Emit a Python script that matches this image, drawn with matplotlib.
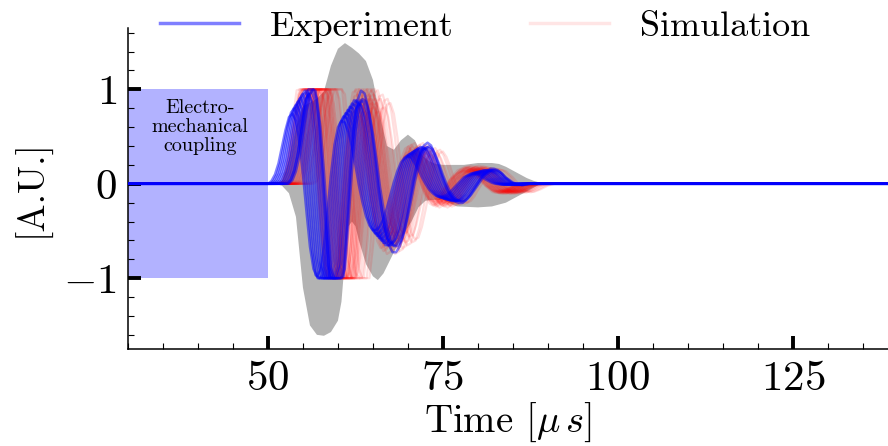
import numpy as np
import matplotlib
matplotlib.use("Agg")
import matplotlib.pyplot as plt
from matplotlib.ticker import MultipleLocator
from matplotlib.lines import Line2D

plt.rcParams['font.family'] = 'serif'
plt.rcParams['font.serif'] = ['cmr10']
plt.rcParams['mathtext.fontset'] = 'cm'
plt.rcParams['axes.formatter.use_mathtext'] = True

########## data ##########
# experiment template (earliest trace), time in us
exp_t = [25, 50.0, 50.5, 51.0, 51.5, 52.0, 52.5, 53.0, 53.5, 54.0, 54.5, 55.0, 55.5,
         56.0, 56.5, 57.0, 57.5, 58.0, 58.5, 59.0, 59.5, 60.0, 60.5, 61.0, 61.5,
         62.0, 62.5, 63.0, 63.5, 64.0, 64.5, 65.0, 65.5, 66.0, 66.5, 67.0, 67.5,
         68.0, 68.5, 69.0, 69.5, 70.0, 70.5, 71.0, 71.5, 72.0, 72.5, 73.0, 73.5,
         74.0, 74.5, 75.0, 75.5, 76.0, 76.5, 77.0, 77.5, 78.0, 78.5, 79.0, 79.5,
         80.0, 80.5, 81.0, 81.5, 82.0, 82.5, 83.0, 84.0, 85.0, 145]
exp_v = [0, 0, 0.0, 0.03, 0.1, 0.22, 0.4, 0.58, 0.72, 0.76, 0.68, 0.45, 0.1,
         -0.3, -0.68, -0.92, -1.0, -0.93, -0.68, -0.3, 0.1, 0.42, 0.61, 0.68, 0.66,
         0.56, 0.4, 0.2, -0.02, -0.2, -0.35, -0.45, -0.5, -0.5, -0.46, -0.38, -0.26,
         -0.12, 0.02, 0.14, 0.23, 0.28, 0.3, 0.28, 0.22, 0.15, 0.07, 0.0, -0.06,
         -0.1, -0.13, -0.14, -0.14, -0.12, -0.09, -0.05, -0.01, 0.03, 0.07, 0.09, 0.11,
         0.11, 0.1, 0.08, 0.05, 0.03, 0.01, 0.0, -0.01, 0.0, 0]
exp_shift = [-0.5, -0.2, 0.1, 0.4, 0.7, 1.0, 1.3, 1.6, 1.9, 2.2, 2.5, 2.3]
exp_gain = [0.98, 1.05, 1.1, 1.15, 1.2, 1.25, 1.3, 1.3, 1.25, 1.3, 1.32, 1.45]

# simulation template
sim_t = [25, 52.5, 53.0, 53.5, 54.0, 54.5, 55.0, 55.5, 56.0, 56.5, 57.0, 57.5,
         58.0, 58.5, 59.0, 59.5, 60.0, 60.5, 61.0, 61.5, 62.0, 62.5, 63.0, 63.5,
         64.0, 64.5, 65.0, 65.5, 66.0, 66.5, 67.0, 67.5, 68.0, 68.5, 69.0, 69.5,
         70.0, 70.5, 71.0, 71.5, 72.0, 72.5, 73.0, 73.5, 74.0, 74.5, 75.0, 75.5,
         76.0, 77.0, 78.0, 79.0, 80.0, 81.0, 82.0, 83.0, 84.0, 85.0, 86.0, 87.0, 145]
sim_v = [0, 0, 0.03, 0.15, 0.38, 0.65, 0.9, 1.1, 1.2, 1.18, 1.0, 0.6,
         0.05, -0.5, -0.95, -1.2, -1.25, -1.1, -0.7, -0.2, 0.3, 0.68, 0.88, 0.9,
         0.78, 0.52, 0.2, -0.12, -0.38, -0.55, -0.62, -0.6, -0.48, -0.3, -0.1, 0.1,
         0.25, 0.34, 0.36, 0.3, 0.2, 0.08, -0.04, -0.13, -0.19, -0.21, -0.19, -0.14,
         -0.07, 0.05, 0.13, 0.16, 0.14, 0.07, -0.02, -0.08, -0.09, -0.06, -0.02, 0.0, 0]
sim_shift = [-1.0, -0.9, -0.8, -0.65, -0.6, -0.5, -0.35, -0.3, -0.2, -0.05, 0.0, 0.1,
             0.25, 0.3, 0.4, 0.55, 0.6, 0.7, 0.85, 0.9, 1.0, 1.15, 1.2, 1.3, 1.45,
             1.5, 1.6, 1.75, 1.8, 1.9, 2.05, 2.2, 2.4, 2.6, 2.9, 3.2, 3.6, 4.0]
sim_gain = [0.85, 1.1, 0.95, 1.05, 0.9, 1.15, 1.0, 0.8, 1.1, 0.95, 1.2, 0.9, 1.05,
            1.0, 0.85, 1.1, 0.95, 1.15, 1.0, 0.9, 1.05, 1.2, 0.85, 1.0, 1.1, 0.95,
            1.05, 0.9, 1.15, 1.0, 0.95, 1.1, 0.85, 1.0, 1.05, 0.9, 1.0, 0.95]

# grey band
band_hi_t = [50, 51, 52, 53, 54, 55, 56, 57, 58, 59, 60, 61, 62, 63, 64, 65, 66, 67,
             68, 69, 70, 71, 72, 73, 74, 75, 76, 77, 78, 79, 80, 81, 82, 83, 84, 85,
             86, 87, 88, 89, 90]
band_hi_v = [0, 0, 0.03, 0.25, 0.6, 0.82, 0.86, 0.9, 0.98, 1.25, 1.43, 1.49, 1.44,
             1.38, 1.3, 1.1, 0.72, 0.4, 0.36, 0.46, 0.52, 0.46, 0.3, 0.24, 0.21, 0.2,
             0.2, 0.2, 0.2, 0.21, 0.22, 0.22, 0.22, 0.21, 0.18, 0.14, 0.1, 0.06, 0.03,
             0.01, 0]
band_lo_t = [50, 51, 52, 53, 54, 55, 56, 57, 58, 59, 60, 60.5, 61, 61.5, 62, 62.5,
             63, 64, 65, 65.7, 66.5, 67.5, 68.5, 69.5, 70.5, 71.5, 72.5, 73.5, 75, 77,
             80, 82, 84, 86, 88, 89, 90]
band_lo_v = [0, 0, -0.02, -0.1, -0.35, -1.1, -1.5, -1.6, -1.61, -1.57, -1.45, -1.25,
             -0.8, -0.45, -0.4, -0.45, -0.6, -0.85, -0.98, -1.02, -0.95, -0.8, -0.65,
             -0.52, -0.4, -0.25, -0.18, -0.17, -0.17, -0.24, -0.25, -0.24, -0.2,
             -0.12, -0.04, 0, 0]
################################################

fig = plt.figure(figsize=(8.88, 4.46), dpi=100)
ax = fig.add_axes([128/888, 97/446, 760/888, 321/446])

ax.fill_between([30, 50], [-1, -1], [1, 1], color='blue', alpha=0.3, lw=0, zorder=0)
ax.text(40.3, 0.6, 'Electro-\nmechanical\ncoupling', ha='center', va='center',
        fontsize=14.5, linespacing=1.1)

ax.fill(np.r_[band_hi_t, band_lo_t[::-1]], np.r_[band_hi_v, band_lo_v[::-1]],
        color='0.7', lw=0, zorder=1)

st = np.array(sim_t)
sv = np.array(sim_v)
for s, g in zip(sim_shift, sim_gain):
    ax.plot(st + s, np.clip(sv*g, -1, 1), color='red', alpha=0.13, lw=1.6, zorder=2)

et = np.array(exp_t)
ev = np.array(exp_v)
for s, g in zip(exp_shift, exp_gain):
    ax.plot(et + s, np.clip(ev*g, -1, 1), color='blue', alpha=0.5, lw=1.8, zorder=3)

ax.set_xlim(30, 138.6)
ax.set_ylim(-1.75, 1.65)
ax.xaxis.set_major_locator(MultipleLocator(25))
ax.xaxis.set_minor_locator(MultipleLocator(5))
ax.yaxis.set_major_locator(MultipleLocator(1))
ax.yaxis.set_minor_locator(MultipleLocator(0.2))
ax.tick_params(which='major', direction='in', length=9.5, width=2.8, labelsize=31, pad=8)
ax.tick_params(which='minor', direction='in', length=4.5, width=0.8)
for sp in ['top', 'right']:
    ax.spines[sp].set_visible(False)
for sp in ['left', 'bottom']:
    ax.spines[sp].set_linewidth(1.1)

ax.set_xlabel(r'Time $[\mu\,s]$', fontsize=28, labelpad=2)
ax.set_ylabel('[A.U.]', fontsize=27, labelpad=9)

handles = [Line2D([], [], color='blue', alpha=0.5, lw=2.5),
           Line2D([], [], color='red', alpha=0.1, lw=2.5)]
fig.legend(handles, ['Experiment', 'Simulation'], loc='center',
           bbox_to_anchor=(0.546, 0.94), ncol=2, frameon=False, fontsize=26,
           handlelength=2.2, handletextpad=0.85, columnspacing=2.1)

fig.savefig('out.png', dpi=100)
